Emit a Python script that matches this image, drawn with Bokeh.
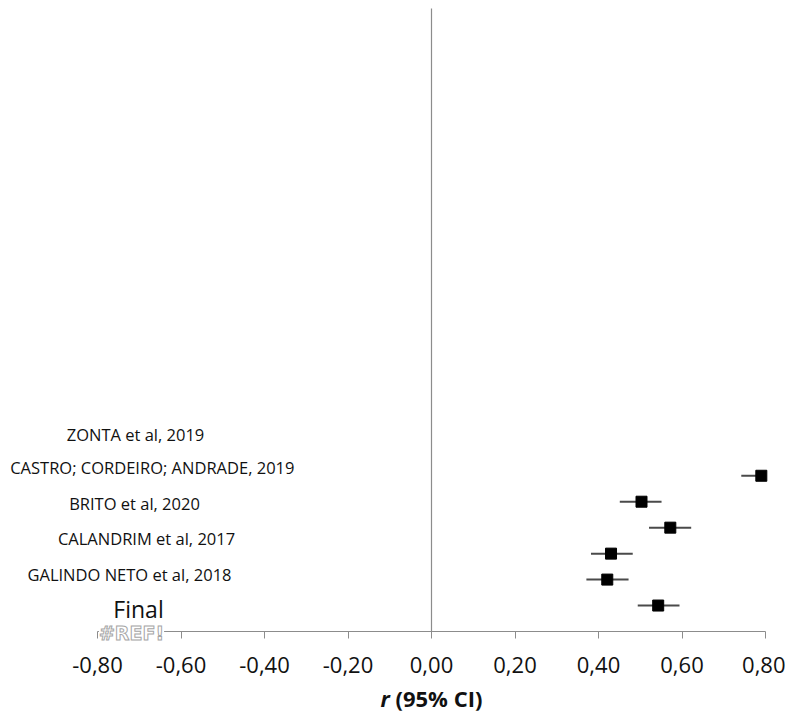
from bokeh.plotting import figure
from bokeh.models import (ColumnDataSource, Range1d, FixedTicker, CustomJSTickFormatter, Label)
from bokeh.core.properties import value
from bokeh.embed import file_html
from bokeh.resources import INLINE

# ---- data ----
studies = ["ZONTA et al, 2019", "CASTRO; CORDEIRO;  ANDRADE, 2019", "BRITO et al, 2020",
           "CALANDRIM et al, 2017", "GALINDO NETO et al, 2018", "Final"]
r_est = [0.79, 0.503, 0.572, 0.430, 0.421, 0.543]
ci_low = [0.742, 0.451, 0.521, 0.382, 0.371, 0.494]
ci_high = [0.83, 0.551, 0.622, 0.482, 0.472, 0.594]
point_rows = [6, 5, 4, 3, 2, 1]          # rows of the effect markers
tick_values = [-0.8, -0.6, -0.4, -0.2, 0.0, 0.2, 0.4, 0.6, 0.8]
axis_min, axis_max = -0.8, 0.8
rows_top = 24

# label placement (category text column on the left)
label_x = [-0.709, -0.6635, -0.7114, -0.6826, -0.7234]
label_y = [7.59, 6.32, 4.93, 3.58, 2.20]

W, H = 785, 714
px_per_x = 417.5
px_per_y = 25.958
x0 = axis_min - 97 / px_per_x
x1 = x0 + W / px_per_x
y1 = 631 / px_per_y
y0 = -(H - 631) / px_per_y

p = figure(width=W, height=H, output_backend="svg", toolbar_location=None,
           x_range=Range1d(x0, x1), y_range=Range1d(y0, y1),
           min_border_left=0, min_border_right=0, min_border_top=0, min_border_bottom=0)
p.outline_line_color = None
p.grid.visible = False
p.yaxis.visible = False
p.background_fill_color = "white"

# vertical zero line
p.segment(x0=[0], x1=[0], y0=[0], y1=[rows_top], line_color="#8c8c8c", line_width=1.2)

# error bars (clipped to the axis extent)
src = ColumnDataSource(dict(est=r_est, lo=ci_low, hi=[min(h, axis_max) for h in ci_high], row=point_rows))
p.segment(x0="lo", x1="hi", y0="row", y1="row", source=src, line_color="#4a4a4a", line_width=2)
p.scatter(x="est", y="row", source=src, marker="square", size=11,
          fill_color="black", line_color="black")

# study labels
lsrc = ColumnDataSource(dict(x=label_x, y=label_y, t=studies[:5]))
p.text(x="x", y="y", text="t", source=lsrc, text_font=value("Open Sans"),
       text_font_size="16.5px", text_align="center", text_baseline="middle", text_color="#111111")
p.text(x=[-0.7018], y=[0.886], text=[studies[5]], text_font=value("Open Sans"),
       text_font_size="23px", text_align="center", text_baseline="middle", text_color="#111111")

# x axis, drawn at y = 0 inside the frame
ax = p.xaxis[0]
ax.fixed_location = 0
ax.bounds = (axis_min, axis_max)
ax.ticker = FixedTicker(ticks=tick_values)
ax.formatter = CustomJSTickFormatter(code="""
const v = Math.abs(tick) < 1e-9 ? 0 : tick;
return v.toFixed(2).replace('.', ',');
""")
ax.axis_line_color = "#8c8c8c"
ax.major_tick_line_color = "#8c8c8c"
ax.major_tick_out = 7
ax.major_tick_in = 0
ax.minor_tick_line_color = None
ax.major_label_text_font = "Open Sans"
ax.major_label_text_font_size = "22px"
ax.major_label_text_color = "#111111"
ax.major_label_standoff = 18

# #REF! outline label
p.add_layout(Label(x=-0.7186, y=-0.077, text="#REF!", text_font="DejaVu Sans",
                   text_font_size="19px", text_font_style="bold", text_align="center",
                   text_baseline="middle", text_color="white", text_outline_color="#a6a6a6",
                   background_fill_color="white"))

# axis title: italic bold r + bold rest
p.add_layout(Label(x=-0.1222, y=-2.581, text="r", text_font="Open Sans", text_font_size="22px",
                   text_font_style="bold italic", text_align="left", text_baseline="middle",
                   text_color="#111111"))
p.add_layout(Label(x=-0.0862, y=-2.581, text="(95% CI)", text_font="Open Sans", text_font_size="22px",
                   text_font_style="bold", text_align="left", text_baseline="middle",
                   text_color="#111111"))

open("out.html", "w").write(file_html(p, INLINE))
